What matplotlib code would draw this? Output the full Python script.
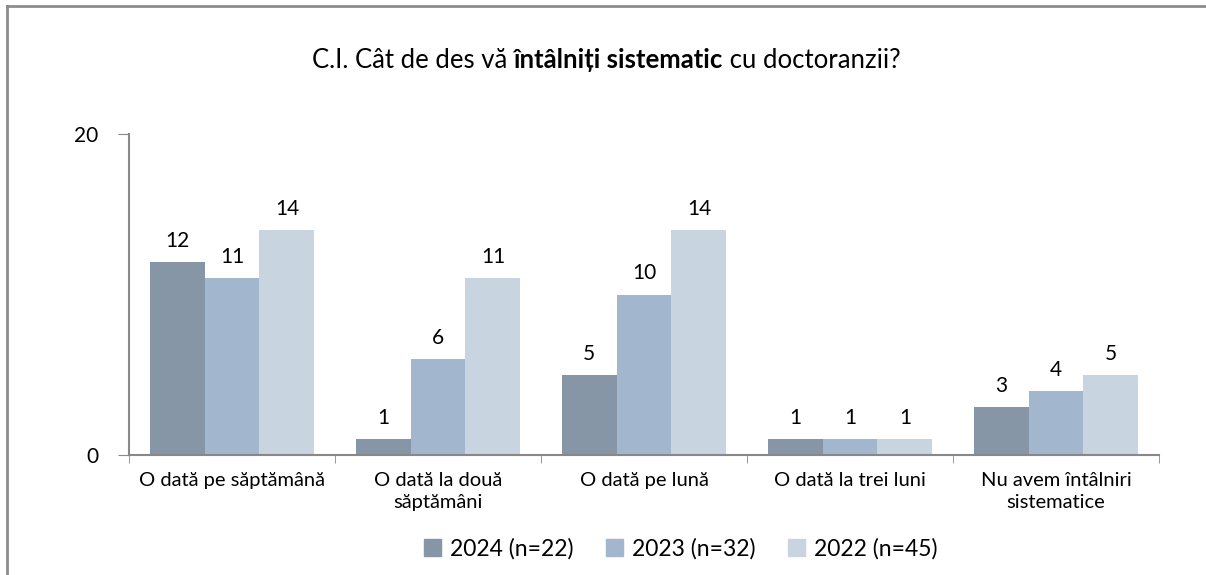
import matplotlib.pyplot as plt
import numpy as np
from matplotlib.lines import Line2D
from matplotlib.patches import Patch

categories = ["O dată pe săptămână", "O dată la două\nsăptămâni", "O dată pe lună",
              "O dată la trei luni", "Nu avem întâlniri\nsistematice"]
series_labels = ["2024 (n=22)", "2023 (n=32)", "2022 (n=45)"]
values_2024 = [12, 1, 5, 1, 3]
values_2023 = [11, 6, 10, 1, 4]
values_2022 = [14, 11, 14, 1, 5]
colors = ["#8696A7", "#A2B7CD", "#C8D4E0"]

plt.rcParams["font.family"] = ["Lato", "DejaVu Sans"]

fig = plt.figure(figsize=(12.06, 5.75), dpi=100)
ax = fig.add_axes([129 / 1206, 120 / 575, 1030 / 1206, 321 / 575])

x = np.arange(len(categories))
width = 0.8 / 3
for i, (vals, color, lab) in enumerate(zip([values_2024, values_2023, values_2022], colors, series_labels)):
    bars = ax.bar(x + (i - 1) * width, vals, width, color=color, label=lab)
    for b, v in zip(bars, vals):
        ax.annotate(str(v), (b.get_x() + b.get_width() / 2, v), xytext=(0, 8),
                    textcoords="offset points", ha="center", va="bottom", fontsize=15)

ax.set_xlim(-0.5, len(categories) - 0.5)
ax.set_ylim(0, 20)
ax.set_yticks([0, 20])
ax.tick_params(axis="y", labelsize=15, length=8, color="#888888", pad=14)
ax.set_xticks(x)
ax.set_xticklabels(categories, fontsize=14.5, linespacing=1.35)
ax.tick_params(axis="x", length=0, pad=12)
ax.set_xticks(np.arange(-0.5, len(categories)), minor=True)
ax.tick_params(axis="x", which="minor", length=6, color="#888888")
for s in ["top", "right"]:
    ax.spines[s].set_visible(False)
for s in ["left", "bottom"]:
    ax.spines[s].set_color("#888888")
    ax.spines[s].set_linewidth(1.5)

# title with bold part
parts = [("C.I. Cât de des vă ", "normal"), ("întâlniți sistematic", "bold"), (" cu doctoranzii?", "normal")]
renderer = fig.canvas.get_renderer()
texts = []
for s, w in parts:
    t = fig.text(0, 1 - 60 / 575, s, fontsize=18.5, fontweight=w, va="center", ha="left")
    texts.append(t)
widths = [t.get_window_extent(renderer).width for t in texts]
start = 606 - sum(widths) / 2
for t, w in zip(texts, widths):
    t.set_x(start / 1206)
    start += w

handles = [Patch(color=c, label=l) for c, l in zip(colors, series_labels)]
fig.legend(handles=handles, loc="center", bbox_to_anchor=(681 / 1206, 1 - 549 / 575), ncol=3,
           frameon=False, fontsize=16.5, handlelength=0.75, handleheight=0.75, handletextpad=0.4,
           columnspacing=1.4)

# partial frame (top and left edges)
fig.add_artist(Line2D([6.5 / 1206, 1], [1 - 5.5 / 575, 1 - 5.5 / 575], color="#8c8c8c", lw=2))
fig.add_artist(Line2D([6.5 / 1206, 6.5 / 1206], [0, 1 - 5.5 / 575], color="#8c8c8c", lw=2))

fig.savefig("out.png", dpi=100)
